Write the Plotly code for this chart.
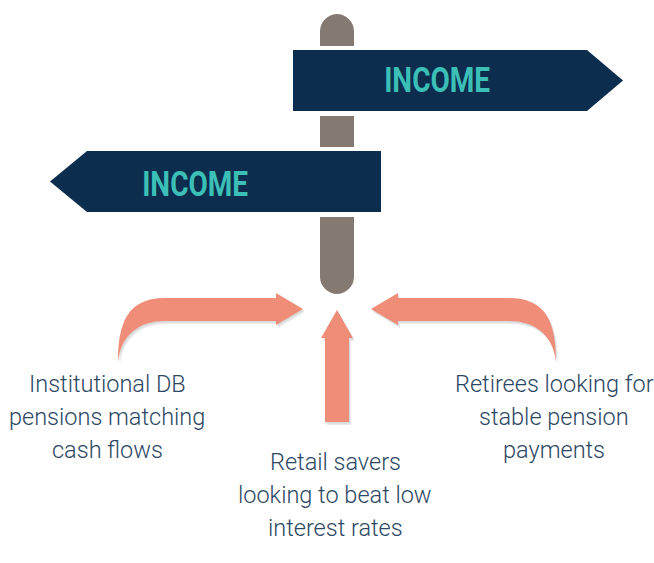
import plotly.graph_objects as go

# ---- content ----
sign_labels = ["INCOME", "INCOME"]
left_lines = ["Institutional DB", "pensions matching", "cash flows"]
center_lines = ["Retail savers", "looking to beat low", "interest rates"]
right_lines = ["Retirees looking for", "stable pension", "payments"]

# ---- styling ----
NAVY = "#0c2d4e"
TEAL = "#3bbfb6"
POST = "#857a72"
SALMON = "#f08d79"
TEXT = "#2c4864"
W, H = 654, 563

shapes = []

def path(d, fill, opacity=1.0):
    shapes.append(dict(type="path", path=d, fillcolor=fill, opacity=opacity,
                       line=dict(width=0), xref="x", yref="y", layer="above"))

# post (rounded top & bottom)
px0, px1 = 320, 354
pc = (px0 + px1) / 2
post = (f"M {px0},31 C {px0},21 {pc-8},14 {pc},14 C {pc+8},14 {px1},21 {px1},31 "
        f"L {px1},277 C {px1},287 {pc+8},294 {pc},294 C {pc-8},294 {px0},287 {px0},277 Z")
path(post, POST)
# white gaps around signs
path(f"M {px0-2},46 L {px1+2},46 L {px1+2},116 L {px0-2},116 Z", "white")
path(f"M {px0-2},147 L {px1+2},147 L {px1+2},217 L {px0-2},217 Z", "white")

# signs
path("M 293,50 L 587,50 L 623,80.5 L 587,111 L 293,111 Z", NAVY)
path("M 381,151 L 87,151 L 50,181.5 L 87,212 L 381,212 Z", NAVY)

# arrows
def left_arrow(dx=0, dy=0, mirror=False):
    m = (lambda x: 674 - x) if mirror else (lambda x: x)
    return (f"M {m(118)+dx},{362+dy} C {m(118)+dx},{322+dy} {m(128)+dx},{298+dy} {m(165)+dx},{298+dy} "
            f"L {m(276)+dx},{298+dy} L {m(276)+dx},{293+dy} L {m(303)+dx},{309+dy} L {m(276)+dx},{325+dy} "
            f"L {m(276)+dx},{321+dy} L {m(165)+dx},{321+dy} C {m(140)+dx},{321+dy} {m(121)+dx},{334+dy} {m(118)+dx},{362+dy} Z")

def right_arrow(dx=0, dy=0):
    return left_arrow(dx, dy, mirror=True)

def up_arrow(dx=0, dy=0):
    return (f"M {325+dx},{422+dy} L {325+dx},{338+dy} L {321+dx},{338+dy} L {337+dx},{310+dy} "
            f"L {353+dx},{338+dy} L {349+dx},{338+dy} L {349+dx},{422+dy} Z")

for f in (left_arrow, right_arrow, up_arrow):
    path(f(2, 3), "#9aa0a0", opacity=0.22)
    path(f(1, 1.5), "#9aa0a0", opacity=0.22)
for f in (left_arrow, right_arrow, up_arrow):
    path(f(), SALMON)

fig = go.Figure()
fig.add_trace(go.Scatter(x=[0, W], y=[0, H], mode="markers",
                         marker=dict(opacity=0), hoverinfo="skip", showlegend=False))

annotations = []
sign_pos = [(437, 80), (195, 184)]
for lab, (x, y) in zip(sign_labels, sign_pos):
    annotations.append(dict(x=x, y=y, text=lab, showarrow=False,
                            font=dict(family="Roboto, sans-serif",
                                      size=35, color=TEAL, weight=700),
                            xanchor="center", yanchor="middle"))

def add_block(lines, x, y0, step=33):
    for i, t in enumerate(lines):
        annotations.append(dict(x=x, y=y0 + i * step, text=t, showarrow=False,
                                font=dict(family="Roboto, sans-serif", size=23.5,
                                          color=TEXT, weight=300),
                                xanchor="center", yanchor="middle"))

add_block(left_lines, 107, 384)
add_block(center_lines, 335, 462)
add_block(right_lines, 554, 384)

fig.update_layout(
    width=W, height=H, margin=dict(l=0, r=0, t=0, b=0),
    paper_bgcolor="white", plot_bgcolor="white",
    xaxis=dict(range=[0, W], visible=False, fixedrange=True),
    yaxis=dict(range=[H, 0], visible=False, fixedrange=True),
    shapes=shapes, annotations=annotations,
)

post_js = """
document.body.style.margin='0';
document.querySelectorAll('text.annotation-text').forEach(function(el){
  if (el.textContent === 'INCOME') {
    el.setAttribute('textLength', '106');
    el.setAttribute('lengthAdjust', 'spacingAndGlyphs');
  }
});
"""
fig.write_html("out.html", post_script=post_js, config={"displayModeBar": False})
